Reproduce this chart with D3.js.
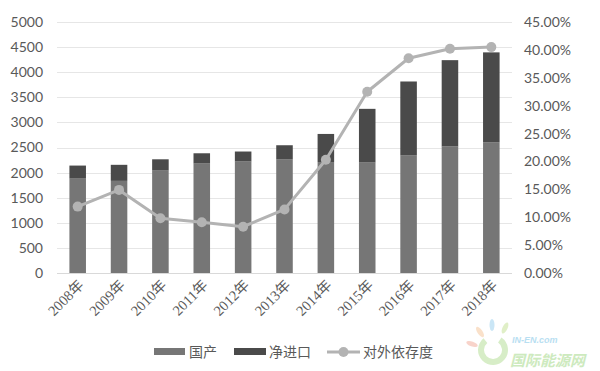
<!DOCTYPE html>
<html>
<head>
<meta charset="utf-8">
<script src="https://cdn.jsdelivr.net/npm/d3@7/dist/d3.min.js"></script>
<style>
  body { margin: 0; background: #fff; }
  svg { display: block; }
</style>
</head>
<body>
<div id="chart"></div>
<script>
// data
var years    = ["2008年","2009年","2010年","2011年","2012年","2013年","2014年","2015年","2016年","2017年","2018年"];
var domestic = [1880, 1835, 2040, 2180, 2220, 2260, 2210, 2200, 2340, 2520, 2600];
var imports  = [260, 320, 225, 205, 200, 285, 560, 1070, 1475, 1720, 1795];
var ratio    = [11.9, 14.9, 9.8, 9.1, 8.3, 11.4, 20.3, 32.5, 38.5, 40.2, 40.5];
var leftTicks  = [0, 500, 1000, 1500, 2000, 2500, 3000, 3500, 4000, 4500, 5000];
var rightTicks = [0, 5, 10, 15, 20, 25, 30, 35, 40, 45];
var legendNames = ["国产", "净进口", "对外依存度"];

var gGlobals = {
  width: 600, height: 371,
  margin: {top: 22, right: 88, bottom: 98, left: 57},
  colDom: "#767676", colImp: "#4a4a4a", colLine: "#b3b3b3",
  grid: "#e6e6e6", text: "#595959"
};
var innerW = gGlobals.width  - gGlobals.margin.left - gGlobals.margin.right;
var innerH = gGlobals.height - gGlobals.margin.top  - gGlobals.margin.bottom;

var svg = d3.select("#chart").append("svg")
    .attr("width", gGlobals.width)
    .attr("height", gGlobals.height);

var g = svg.append("g")
    .attr("transform", "translate(" + gGlobals.margin.left + "," + gGlobals.margin.top + ")");

var x  = d3.scaleBand().domain(years).range([0, innerW]).paddingInner(0.6).paddingOuter(0.3);
var yL = d3.scaleLinear().domain([0, 5000]).range([innerH, 0]);
var yR = d3.scaleLinear().domain([0, 45]).range([innerH, 0]);

// gridlines
g.append("g").selectAll("line")
    .data(leftTicks)
  .enter().append("line")
    .attr("x1", 0).attr("x2", innerW)
    .attr("y1", function(d) { return Math.round(yL(d)) + 0.5; })
    .attr("y2", function(d) { return Math.round(yL(d)) + 0.5; })
    .attr("stroke", function(d) { return d === 0 ? "#d9d9d9" : gGlobals.grid; })
    .attr("stroke-width", 1);

// left axis
var axL = g.append("g")
    .call(d3.axisLeft(yL).tickValues(leftTicks).tickSize(0).tickPadding(14).tickFormat(d3.format("d")));
axL.select(".domain").remove();
axL.selectAll("text")
    .style("font-family", "Lato, 'Liberation Sans', sans-serif")
    .style("font-size", "14px")
    .attr("fill", gGlobals.text);

// right axis
var axR = g.append("g")
    .attr("transform", "translate(" + innerW + ",0)")
    .call(d3.axisRight(yR).tickValues(rightTicks).tickSize(0).tickPadding(12)
            .tickFormat(function(d) { return d.toFixed(2) + "%"; }));
axR.select(".domain").remove();
axR.selectAll("text")
    .style("font-family", "Lato, 'Liberation Sans', sans-serif")
    .style("font-size", "14px")
    .attr("fill", gGlobals.text);

// x axis labels
var axB = g.append("g")
    .attr("transform", "translate(0," + innerH + ")")
    .call(d3.axisBottom(x).tickSize(0).tickPadding(0));
axB.select(".domain").remove();
axB.selectAll("text")
    .style("font-family", "'Liberation Serif', 'Noto Sans CJK SC', serif")
    .style("font-size", "14.5px")
    .attr("fill", gGlobals.text)
    .attr("text-anchor", "end")
    .attr("dy", "0")
    .attr("transform", "translate(7,13) rotate(-45)");

// stacked bars
var bars = g.append("g").selectAll("g")
    .data(years)
  .enter().append("g");

bars.append("rect")
    .attr("x", function(d) { return x(d); })
    .attr("width", x.bandwidth())
    .attr("y", function(d, i) { return yL(domestic[i]); })
    .attr("height", function(d, i) { return yL(0) - yL(domestic[i]); })
    .attr("fill", gGlobals.colDom);

bars.append("rect")
    .attr("x", function(d) { return x(d); })
    .attr("width", x.bandwidth())
    .attr("y", function(d, i) { return yL(domestic[i] + imports[i]); })
    .attr("height", function(d, i) { return yL(domestic[i]) - yL(domestic[i] + imports[i]); })
    .attr("fill", gGlobals.colImp);

// dependence line
var line = d3.line()
    .x(function(d, i) { return x(years[i]) + x.bandwidth() / 2; })
    .y(function(d) { return yR(d); });

g.append("path")
    .datum(ratio)
    .attr("d", line)
    .attr("fill", "none")
    .attr("stroke", gGlobals.colLine)
    .attr("stroke-width", 3)
    .attr("stroke-linejoin", "round");

g.append("g").selectAll("circle")
    .data(ratio)
  .enter().append("circle")
    .attr("cx", function(d, i) { return x(years[i]) + x.bandwidth() / 2; })
    .attr("cy", function(d) { return yR(d); })
    .attr("r", 5)
    .attr("fill", gGlobals.colLine);

// legend
var lg = svg.append("g").attr("transform", "translate(0,352)");
var lgFont = "'Noto Sans CJK SC', sans-serif";

lg.append("rect").attr("x", 154).attr("y", -4).attr("width", 31).attr("height", 7).attr("fill", gGlobals.colDom);
lg.append("text").attr("x", 189).attr("y", 5).text(legendNames[0]);

lg.append("rect").attr("x", 234).attr("y", -4).attr("width", 32).attr("height", 7).attr("fill", gGlobals.colImp);
lg.append("text").attr("x", 269).attr("y", 5).text(legendNames[1]);

lg.append("line").attr("x1", 327).attr("x2", 360).attr("y1", 0).attr("y2", 0)
    .attr("stroke", gGlobals.colLine).attr("stroke-width", 3);
lg.append("circle").attr("cx", 343.5).attr("cy", 0).attr("r", 5).attr("fill", gGlobals.colLine);
lg.append("text").attr("x", 363).attr("y", 5).text(legendNames[2]);

lg.selectAll("text")
    .style("font-family", lgFont)
    .style("font-size", "14px")
    .attr("fill", gGlobals.text);

// watermark
var wm = svg.append("g").attr("opacity", 0.55);
wm.append("path")
    .attr("d", d3.arc()({innerRadius: 9, outerRadius: 15, startAngle: 0.6, endAngle: 5.6}))
    .attr("transform", "translate(493,350)")
    .attr("fill", "#b7e09a");
wm.append("ellipse").attr("cx", 492).attr("cy", 325).attr("rx", 2.5).attr("ry", 6).attr("fill", "#9fd3ef");
wm.append("ellipse").attr("cx", 505).attr("cy", 328).attr("rx", 2.5).attr("ry", 6).attr("transform", "rotate(25,505,328)").attr("fill", "#c8e39a");
wm.append("ellipse").attr("cx", 480).attr("cy", 332).attr("rx", 2.5).attr("ry", 6).attr("transform", "rotate(-35,480,332)").attr("fill", "#f6c9a0");
wm.append("ellipse").attr("cx", 472).attr("cy", 344).attr("rx", 2.5).attr("ry", 6).attr("transform", "rotate(-70,472,344)").attr("fill", "#f4b0a0");
wm.append("text").attr("x", 512).attr("y", 343)
    .style("font-family", "'Liberation Sans', sans-serif").style("font-size", "9px")
    .style("font-weight", "bold").style("font-style", "italic")
    .attr("fill", "#7fc6e8").text("IN-EN.com");
wm.append("text").attr("x", 510).attr("y", 366)
    .style("font-family", "'Noto Sans CJK SC', sans-serif").style("font-size", "15px")
    .style("font-weight", "bold").style("font-style", "italic")
    .attr("fill", "#a6d98a").text("国际能源网");
</script>
</body>
</html>
